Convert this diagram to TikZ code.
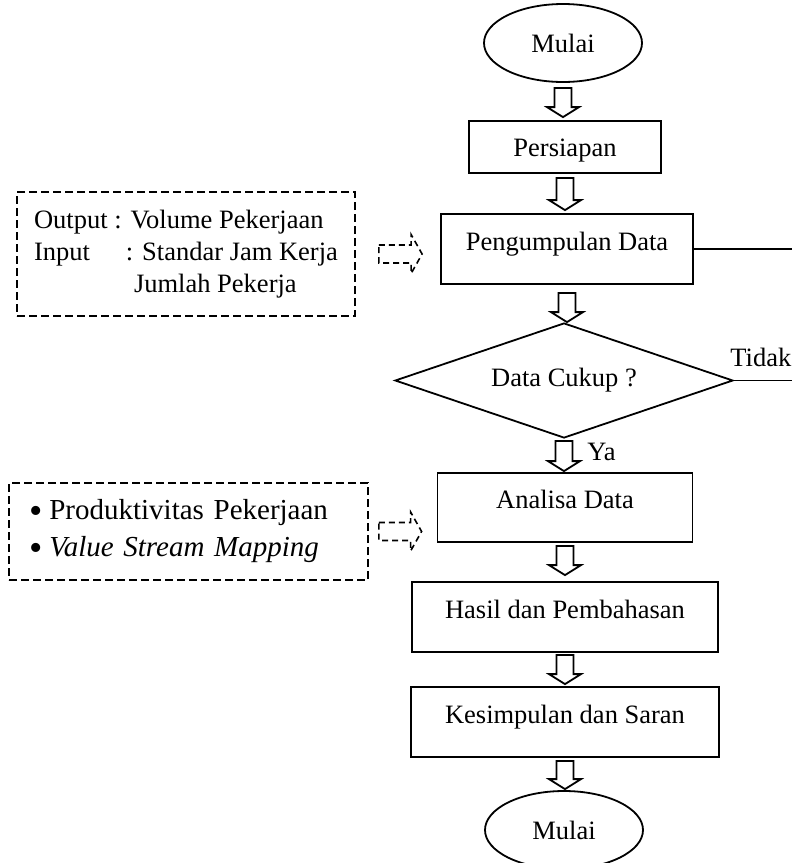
\documentclass[tikz,border=0pt]{standalone}
\usepackage{fontspec}
\setmainfont{Liberation Serif}
\usetikzlibrary{calc,shapes.geometric}
\tikzset{
    flowFont/.style={
        font=\fontsize{13.25}{16}\selectfont
    }
}
\newcommand{\bigdot}{\raisebox{-1.6pt}{\fontsize{19}{16}\selectfont\textbullet}\hspace{3pt}}

\begin{document}
\begin{tikzpicture}[
  x=0.5pt,
  y=-0.5pt,
  every node/.style={flowFont, align=center},
  flowLine/.style={draw=black, line width=0.9pt}
]

% ---------- node styles ----------
\tikzset{
  termNode/.style={draw=black, line width=0.9pt, ellipse, minimum width=79pt, minimum height=39pt, inner sep=0pt},
  stepNode/.style={draw=black, line width=0.9pt, rectangle, inner sep=0pt, text height=9pt, text depth=8pt},
  decisionNode/.style={draw=black, line width=0.9pt, diamond, aspect=2.94, minimum width=169pt, minimum height=57.5pt, inner sep=0pt},
  noteNode/.style={draw=black, line width=0.9pt, dash pattern=on 4pt off 2pt, align=left, inner ysep=0pt},
  lbl/.style={inner sep=0pt, anchor=west},
  blockArrow/.style={draw=black, line width=0.9pt,
    to path={let \p1=(\tikztostart), \p2=(\tikztotarget) in
      (\x1-4.25pt,\y1) -- (\x1+4.25pt,\y1) -- (\x1+4.25pt,\y2+5pt) -- (\x1+8pt,\y2+5pt)
      -- (\x1,\y2) -- (\x1-8pt,\y2+5pt) -- (\x1-4.25pt,\y2+5pt) -- cycle}},
  noteArrow/.style={draw=black, line width=0.8pt, dash pattern=on 3pt off 2pt,
    to path={let \p1=(\tikztostart), \p2=(\tikztotarget) in
      (\x1,\y1+4.5pt) -- (\x2-5.5pt,\y1+4.5pt) -- (\x2-5.5pt,\y1+9.75pt) -- (\x2,\y1)
      -- (\x2-5.5pt,\y1-9.75pt) -- (\x2-5.5pt,\y1-4.5pt) -- (\x1,\y1-4.5pt) -- cycle}}
}

\useasboundingbox (0,0) rectangle (792,863);
\coordinate (rim) at (792,0);

% ---------- main flow ----------
\node[termNode] (mulaiA) at (563,43) {Mulai};
\node[stepNode, minimum width=96pt, minimum height=26pt, text depth=0pt] (persiapan) at (565,147) {Persiapan};
\node[stepNode, minimum width=126pt, minimum height=35pt] (kumpul) at (567,249) {Pengumpulan Data};
\node[decisionNode] (cek) at (564,380.5) {Data Cukup ?};
\node[stepNode, minimum width=127.5pt, minimum height=34.5pt] (analisa) at (565,507.5) {Analisa Data};
\node[stepNode, minimum width=153pt, minimum height=35pt] (hasil) at (565,617) {Hasil dan Pembahasan};
\node[stepNode, minimum width=154pt, minimum height=35pt] (simpul) at (565,722) {Kesimpulan dan Saran};
\node[termNode] (mulaiB) at (564,830) {Mulai};

% ---------- notes ----------
\node[noteNode, minimum width=169pt, minimum height=62pt] (inA) at (186,254)
  {Output : Volume Pekerjaan\\
   Input\hspace{18pt}: Standar Jam Kerja\\
   \hspace*{50pt}Jumlah Pekerja};
\node[noteNode, font=\fontsize{14.5}{18.5}\selectfont, minimum width=179.5pt, minimum height=48.5pt, text width=158.5pt, inner xsep=10.5pt] (inB) at (188.5,531.5)
  {\bigdot Produktivitas Pekerjaan\\
   \bigdot\textit{Value Stream Mapping}};

% ---------- labels ----------
\node[lbl] (tidak) at (730,357) {Tidak};
\node[lbl] (ya) at (587,452) {Ya};

% ---------- arrows ----------
\draw[blockArrow] ([yshift=-2.5pt]mulaiA.south) to ([yshift=1.5pt]persiapan.north);
\draw[blockArrow] ([yshift=-2pt]persiapan.south) to ([yshift=1.5pt]kumpul.north);
\draw[blockArrow] ([yshift=-4pt]kumpul.south) to (cek.north);
\draw[blockArrow] ([yshift=-1pt]cek.south) to ([yshift=0.5pt]analisa.north);
\draw[blockArrow] ([yshift=-1.5pt]analisa.south) to ([yshift=3pt]hasil.north);
\draw[blockArrow] ([yshift=-1pt]hasil.south) to ([yshift=1pt]simpul.north);
\draw[blockArrow] ([yshift=-1.5pt]simpul.south) to ([yshift=0.5pt]mulaiB.north);

\draw[noteArrow] ([xshift=11.5pt]inA.east) to ([xshift=-9pt]kumpul.west);
\draw[noteArrow] ([xshift=5pt]inB.east) to ([xshift=-7.5pt]analisa.west);

\draw[flowLine] (kumpul.east) -- (kumpul.east -| rim);
\draw[flowLine] (cek.east) -- (cek.east -| rim);

\end{tikzpicture}
\end{document}
